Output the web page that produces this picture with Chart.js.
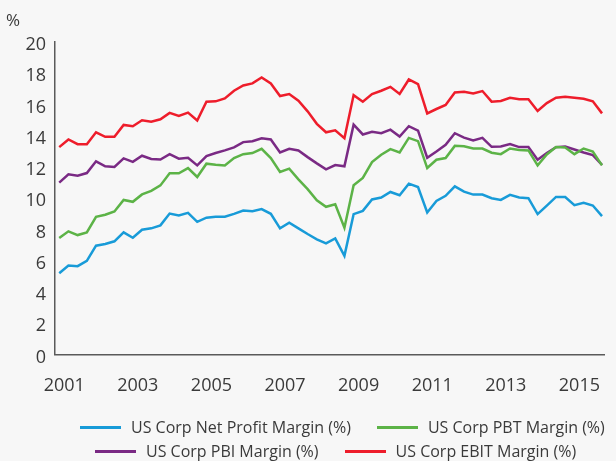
<!DOCTYPE html>
<html>
<head>
<meta charset="utf-8">
<script src="https://cdn.jsdelivr.net/npm/chart.js@4.4.1/dist/chart.umd.min.js"></script>
<style>
  body { margin: 0; background: #f7f7f7; }
  #wrap { position: relative; width: 616px; height: 461px; }
  .legend-row { position: absolute; display: flex; align-items: center; font: 16px "Open Sans", sans-serif; color: #3a3a3a; white-space: nowrap; }
  .legend-item { display: flex; align-items: center; margin-right: 26px; }
  .swatch { display: inline-block; width: 41px; height: 3px; margin-right: 10px; }
</style>
</head>
<body>
<div id="wrap">
  <canvas id="chart" width="616" height="461"></canvas>
  <div class="legend-row" id="row1" style="left:80px; top:416px;"></div>
  <div class="legend-row" id="row2" style="left:95px; top:440px;"></div>
</div>
<script>
// quarterly, 2001 Q1 .. 2015 Q4
const yearLabels = ['2001', '2003', '2005', '2007', '2009', '2011', '2013', '2015'];

const netProfit = [5.2, 5.69, 5.65, 5.99, 6.96, 7.07, 7.24, 7.81, 7.47, 7.98,
  8.07, 8.26, 9.02, 8.9, 9.06, 8.49, 8.75, 8.81, 8.81, 9.0,
  9.21, 9.17, 9.3, 9.0, 8.07, 8.43, 8.07, 7.71, 7.37, 7.11,
  7.42, 6.31, 8.98, 9.19, 9.92, 10.04, 10.4, 10.19, 10.93, 10.72,
  9.09, 9.83, 10.15, 10.76, 10.42, 10.23, 10.23, 10.0, 9.89, 10.21,
  10.04, 10.0, 8.98, 9.53, 10.08, 10.08, 9.55, 9.7, 9.53, 8.85];

const pbtMargin = [7.45, 7.88, 7.64, 7.81, 8.81, 8.94, 9.15, 9.89, 9.77, 10.24,
  10.47, 10.82, 11.59, 11.59, 11.93, 11.36, 12.21, 12.14, 12.1, 12.57,
  12.82, 12.89, 13.16, 12.57, 11.68, 11.89, 11.21, 10.58, 9.87, 9.45,
  9.61, 8.11, 10.83, 11.3, 12.31, 12.78, 13.14, 12.93, 13.86, 13.65,
  11.93, 12.46, 12.57, 13.35, 13.32, 13.18, 13.18, 12.91, 12.82, 13.18,
  13.08, 13.06, 12.1, 12.8, 13.27, 13.25, 12.82, 13.18, 12.99, 12.1];

const pbiMargin = [11.0, 11.53, 11.44, 11.61, 12.36, 12.04, 12.0, 12.55, 12.33, 12.72,
  12.51, 12.48, 12.82, 12.53, 12.59, 12.1, 12.7, 12.89, 13.06, 13.25,
  13.59, 13.65, 13.84, 13.76, 12.93, 13.16, 13.06, 12.63, 12.23, 11.85,
  12.12, 12.04, 14.71, 14.08, 14.25, 14.16, 14.39, 13.95, 14.61, 14.33,
  12.59, 12.99, 13.42, 14.16, 13.88, 13.69, 13.86, 13.29, 13.31, 13.46,
  13.27, 13.27, 12.46, 12.89, 13.27, 13.31, 13.12, 12.93, 12.76, 12.14];

const ebitMargin = [13.27, 13.76, 13.46, 13.46, 14.22, 13.93, 13.93, 14.69, 14.61, 14.99,
  14.9, 15.05, 15.46, 15.27, 15.48, 14.97, 16.18, 16.2, 16.39, 16.88,
  17.22, 17.35, 17.73, 17.35, 16.54, 16.67, 16.24, 15.56, 14.76, 14.22,
  14.35, 13.84, 16.6, 16.18, 16.67, 16.88, 17.13, 16.67, 17.6, 17.3,
  15.43, 15.71, 15.97, 16.77, 16.82, 16.71, 16.86, 16.18, 16.22, 16.43,
  16.33, 16.33, 15.58, 16.09, 16.43, 16.5, 16.43, 16.37, 16.2, 15.43];

const seriesNames = ['US Corp Net Profit Margin (%)', 'US Corp PBT Margin (%)',
  'US Corp PBI Margin (%)', 'US Corp EBIT Margin (%)'];
const seriesColors = ['#189bd8', '#5cb347', '#7a2a84', '#ee1d2b'];

const toPoints = arr => arr.map((v, i) => ({ x: i, y: v }));

const textColor = '#3a3a3a';
const axisColor = '#5a5a5a';

// "%" unit label at top-left
const unitLabel = {
  id: 'unitLabel',
  afterDraw(chart) {
    const ctx = chart.ctx;
    ctx.save();
    ctx.font = '17px "Open Sans", sans-serif';
    ctx.fillStyle = textColor;
    ctx.textAlign = 'center';
    ctx.textBaseline = 'middle';
    ctx.fillText('%', 13, 21);
    ctx.restore();
  }
};

const allSeries = [netProfit, pbtMargin, pbiMargin, ebitMargin];

new Chart(document.getElementById('chart'), {
  type: 'line',
  data: {
    datasets: allSeries.map((s, i) => ({
      label: seriesNames[i],
      data: toPoints(s),
      borderColor: seriesColors[i],
      backgroundColor: seriesColors[i],
      borderWidth: 2.5,
      pointRadius: 0,
      tension: 0
    }))
  },
  options: {
    responsive: false,
    animation: false,
    layout: { padding: { top: 42, right: 0, bottom: 43, left: 0 } },
    plugins: {
      legend: { display: false },
      tooltip: { enabled: false }
    },
    scales: {
      x: {
        type: 'linear',
        min: -0.46,
        max: 59.22,
        grid: { display: false, drawTicks: false },
        border: { display: true, color: axisColor, width: 1.5 },
        afterBuildTicks(scale) {
          scale.ticks = yearLabels.map((y, k) => ({ value: k * 8 }));
        },
        ticks: {
          padding: 21,
          labelOffset: 5,
          maxRotation: 0,
          autoSkip: false,
          color: textColor,
          font: { family: 'Open Sans', size: 18 },
          callback: v => yearLabels[v / 8]
        }
      },
      y: {
        min: 0,
        max: 20,
        afterFit(scale) { scale.width = 55; },
        grid: { display: false, drawTicks: false },
        border: { display: true, color: axisColor, width: 1.5 },
        ticks: {
          stepSize: 2,
          padding: 9,
          labelOffset: 3,
          color: textColor,
          font: { family: 'Open Sans', size: 18 }
        }
      }
    }
  },
  plugins: [unitLabel]
});

// legend, two rows as in the original
function addItem(rowId, idx) {
  const item = document.createElement('span');
  item.className = 'legend-item';
  const sw = document.createElement('span');
  sw.className = 'swatch';
  sw.style.background = seriesColors[idx];
  item.appendChild(sw);
  item.appendChild(document.createTextNode(seriesNames[idx]));
  document.getElementById(rowId).appendChild(item);
}
addItem('row1', 0);
addItem('row1', 1);
addItem('row2', 2);
addItem('row2', 3);
</script>
</body>
</html>
